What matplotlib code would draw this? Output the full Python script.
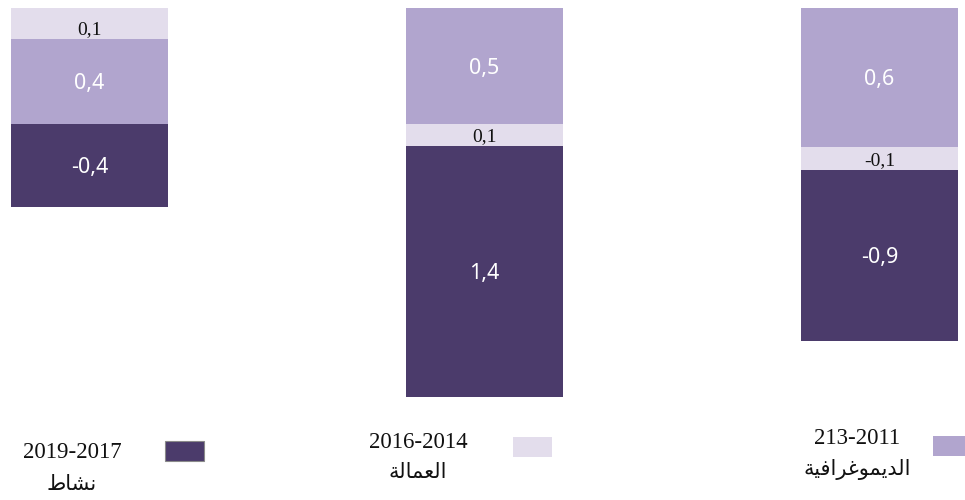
import numpy as np
import matplotlib

matplotlib.use("Agg")

from matplotlib import pyplot as plt
from matplotlib.patches import Rectangle

# segment sizes (display labels kept separately)
activity_sizes = [0.415, 1.255, 0.855]
employment_sizes = [0.155, 0.11, 0.115]
demography_sizes = [0.425, 0.58, 0.695]

activity_labels = ["-0,4", "1,4", "-0,9"]
employment_labels = ["0,1", "0,1", "-0,1"]
demography_labels = ["0,4", "0,5", "0,6"]

# stacking order from the top of each bar
stack_orders = [
    ["employment", "demography", "activity"],
    ["demography", "employment", "activity"],
    ["demography", "employment", "activity"],
]

legend_periods = ["2019-2017", "2016-2014", "213-2011"]
# Arabic names in presentation forms, visual order (matplotlib has no shaping)
legend_names = [
    "\ufec1\ufe8e\ufeb8\ufee7",  # نشاط
    "\ufe94\ufedf\ufe8e\ufee4\ufecc\ufedf\ufe8d",  # العمالة
    "\ufe94\ufef4\ufed3\ufe8d\ufeae\ufecf\ufeee\ufee4\ufef3\ufeaa\ufedf\ufe8d",  # الديموغرافية
]

DARK = "#4B3B6B"
LIGHT = "#E3DDEC"
MEDIUM = "#B1A5CE"

series = {
    "activity": (activity_sizes, activity_labels, DARK),
    "employment": (employment_sizes, employment_labels, LIGHT),
    "demography": (demography_sizes, demography_labels, MEDIUM),
}

W, H = 965, 500
fig = plt.figure(figsize=(W / 100, H / 100), dpi=100)
ax = fig.add_axes([0, 0, 1, 1])

px_per_unit = 200.0
top_px = 8
ax.set_ylim((H - top_px) / px_per_unit, -top_px / px_per_unit)
spacing = 395.0
ax.set_xlim(-89.5 / spacing, (W - 89.5) / spacing)
ax.axis("off")

x_pos = np.arange(3)
bar_width = 157 / spacing

for i, order in enumerate(stack_orders):
    bottom = 0.0
    for key in order:
        sizes, labels, color = series[key]
        ax.bar(x_pos[i], sizes[i], bottom=bottom, width=bar_width,
               color=color, edgecolor="none", align="center")
        if key == "employment":
            ax.text(x_pos[i], bottom + sizes[i] - 0.005, labels[i],
                    ha="center", va="bottom", fontsize=14,
                    family="Liberation Serif", color="#111111")
        else:
            ax.text(x_pos[i], bottom + sizes[i] / 2 + 0.012, labels[i],
                    ha="center", va="center", fontsize=15.5,
                    family="Noto Sans", color="white")
        bottom += sizes[i]

# legend built by hand: swatch to the right, text to the left (RTL layout)
legend_colors = [DARK, LIGHT, MEDIUM]
swatch_boxes = [(165, 441), (513, 437), (933, 436)]
text_centers = [(72, 452, 484), (418, 442, 472), (857, 439, 469)]

for color, (sx, sy), (tx, ty1, ty2), period, name in zip(
        legend_colors, swatch_boxes, text_centers, legend_periods, legend_names):
    edge = "#8a8a8a" if color == DARK else "none"
    fig.patches.append(Rectangle((sx / W, 1 - (sy + 20) / H), 39 / W, 20 / H,
                                 transform=fig.transFigure, facecolor=color,
                                 edgecolor=edge, linewidth=0.8))
    fig.text(tx / W, 1 - ty1 / H, period, ha="center", va="center",
             fontsize=16.5, family="Liberation Serif", color="#111111")
    fig.text(tx / W, 1 - ty2 / H, name, ha="center", va="center",
             fontsize=15, family=["DejaVu Sans"], color="#111111")

fig.savefig("out.png", dpi=100)
plt.close(fig)
